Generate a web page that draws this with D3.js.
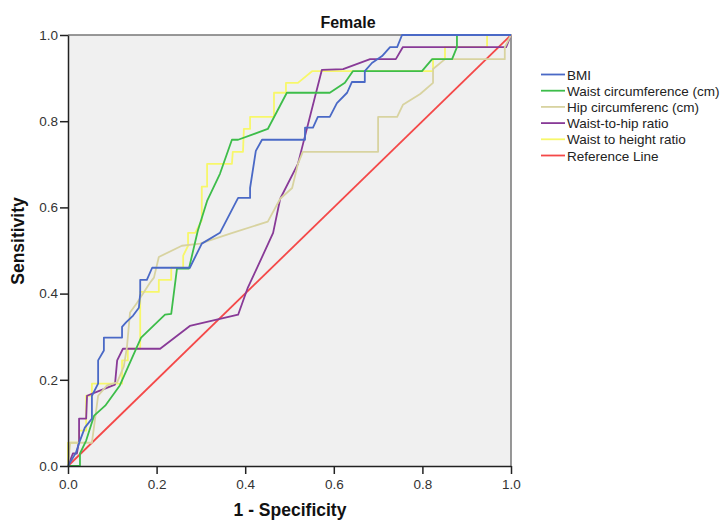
<!DOCTYPE html>
<html>
<head>
<meta charset="utf-8">
<script src="https://cdn.jsdelivr.net/npm/d3@7"></script>
<style>
  body { margin: 0; background: #fff; }
  svg text { font-family: Arial, "Liberation Sans", sans-serif; }
</style>
</head>
<body>
<div id="chart"></div>
<script>
// ROC points [1 - specificity, sensitivity]
var bmi = [[0,0],[0.018,0.031],[0.027,0.059],[0.038,0.089],[0.054,0.110],[0.054,0.163],[0.068,0.191],[0.068,0.245],[0.081,0.268],[0.081,0.298],[0.122,0.298],[0.122,0.323],[0.131,0.333],[0.147,0.349],[0.160,0.367],[0.163,0.400],[0.163,0.432],[0.178,0.432],[0.190,0.460],[0.275,0.460],[0.302,0.516],[0.343,0.541],[0.384,0.622],[0.411,0.622],[0.411,0.645],[0.424,0.731],[0.438,0.757],[0.535,0.757],[0.535,0.785],[0.553,0.785],[0.564,0.810],[0.591,0.810],[0.607,0.842],[0.630,0.866],[0.641,0.891],[0.670,0.891],[0.670,0.916],[0.686,0.935],[0.709,0.951],[0.727,0.972],[0.743,0.972],[0.754,1],[1,1]];
var waist = [[0,0],[0.027,0],[0.027,0.029],[0.041,0.059],[0.059,0.117],[0.084,0.140],[0.117,0.187],[0.165,0.298],[0.219,0.351],[0.233,0.353],[0.246,0.458],[0.273,0.458],[0.293,0.546],[0.314,0.615],[0.343,0.678],[0.370,0.757],[0.384,0.757],[0.451,0.782],[0.494,0.866],[0.591,0.866],[0.625,0.889],[0.643,0.916],[0.799,0.916],[0.822,0.944],[0.867,0.944],[0.878,0.972],[0.878,1],[1,1]];
var hip = [[0,0],[0.005,0.054],[0.054,0.054],[0.068,0.163],[0.088,0.187],[0.111,0.194],[0.126,0.231],[0.133,0.275],[0.140,0.356],[0.156,0.379],[0.185,0.425],[0.194,0.437],[0.205,0.485],[0.257,0.511],[0.298,0.516],[0.366,0.539],[0.451,0.567],[0.479,0.620],[0.506,0.645],[0.519,0.701],[0.530,0.729],[0.700,0.729],[0.700,0.810],[0.743,0.810],[0.756,0.838],[0.795,0.863],[0.824,0.889],[0.824,0.921],[0.851,0.944],[0.986,0.944],[0.986,0.972],[1,1]];
var whr = [[0,0],[0.011,0.029],[0.020,0.029],[0.025,0.059],[0.025,0.110],[0.041,0.110],[0.043,0.163],[0.072,0.175],[0.106,0.189],[0.111,0.245],[0.124,0.272],[0.208,0.272],[0.275,0.325],[0.384,0.351],[0.406,0.414],[0.427,0.460],[0.463,0.541],[0.479,0.620],[0.519,0.701],[0.573,0.919],[0.621,0.921],[0.682,0.944],[0.740,0.944],[0.756,0.972],[0.989,0.972],[1,1]];
var whtr = [[0,0],[0,0.054],[0.025,0.054],[0.025,0.082],[0.041,0.082],[0.041,0.163],[0.054,0.163],[0.054,0.191],[0.122,0.191],[0.122,0.245],[0.135,0.245],[0.135,0.272],[0.163,0.272],[0.163,0.404],[0.205,0.404],[0.205,0.432],[0.233,0.432],[0.233,0.460],[0.260,0.460],[0.260,0.488],[0.271,0.511],[0.271,0.541],[0.287,0.541],[0.302,0.570],[0.302,0.648],[0.314,0.648],[0.314,0.701],[0.370,0.701],[0.372,0.729],[0.395,0.729],[0.397,0.782],[0.411,0.782],[0.411,0.810],[0.465,0.810],[0.465,0.866],[0.492,0.866],[0.492,0.889],[0.519,0.889],[0.551,0.916],[0.824,0.916],[0.824,0.944],[0.851,0.944],[0.851,0.972],[0.946,0.972],[0.946,1],[1,1]];
var refLine = [[0,0],[1,1]];

var seriesNames = ["BMI", "Waist circumference (cm)", "Hip circumferenc (cm)", "Waist-to-hip ratio", "Waist to height ratio", "Reference Line"];
var seriesData = [bmi, waist, hip, whr, whtr, refLine];
var seriesColor = ["#4a69c6", "#3dbd4a", "#d8d3a0", "#883a97", "#f7f76a", "#f44848"];
var tickValues = [0, 0.2, 0.4, 0.6, 0.8, 1.0];

var width = 722, height = 520;
var svg = d3.select("#chart").append("svg")
    .attr("width", width)
    .attr("height", height);

var x = d3.scaleLinear().domain([0, 1]).range([68, 511]);
var y = d3.scaleLinear().domain([0, 1]).range([466, 35]);

// plot background
svg.append("rect")
    .attr("x", x(0))
    .attr("y", y(1))
    .attr("width", x(1) - x(0))
    .attr("height", y(0) - y(1))
    .attr("fill", "#f0f0f0");

// top / right frame
svg.append("path")
    .attr("d", "M" + x(0) + "," + y(1) + "H" + x(1) + "V" + y(0))
    .attr("fill", "none")
    .attr("stroke", "#777")
    .attr("stroke-width", 1.5);

var line = d3.line()
    .x(function (d) { return x(d[0]); })
    .y(function (d) { return y(d[1]); });

var g = svg.append("g");
for (let i = seriesData.length - 1; i >= 0; --i) {
    g.append("path")
        .datum(seriesData[i])
        .attr("d", line)
        .attr("fill", "none")
        .attr("stroke", seriesColor[i])
        .attr("stroke-width", 1.8)
        .attr("stroke-linejoin", "round");
}

var fmt = d3.format(".1f");
var xAxis = svg.append("g")
    .attr("transform", "translate(0," + y(0) + ")")
    .call(d3.axisBottom(x).tickValues(tickValues).tickFormat(fmt).tickSize(8).tickSizeOuter(0));
var yAxis = svg.append("g")
    .attr("transform", "translate(" + x(0) + ",0)")
    .call(d3.axisLeft(y).tickValues(tickValues).tickFormat(fmt).tickSize(8).tickSizeOuter(0));

[xAxis, yAxis].forEach(function (a) {
    a.select(".domain").attr("stroke", "#222").attr("stroke-width", 1.5);
    a.selectAll(".tick line").attr("stroke", "#222").attr("stroke-width", 1.5);
    a.selectAll(".tick text")
        .attr("fill", "#333")
        .attr("font-size", 13.5)
        .attr("font-family", "Arial, 'Liberation Sans', sans-serif");
});
xAxis.selectAll(".tick text").attr("dy", "0.9em");
yAxis.selectAll(".tick text").attr("x", -10);

svg.append("text")
    .text("Female")
    .attr("x", 348)
    .attr("y", 28)
    .attr("text-anchor", "middle")
    .attr("font-size", 16)
    .attr("font-weight", "bold")
    .attr("fill", "#111");

svg.append("text")
    .text("1 - Specificity")
    .attr("x", 290)
    .attr("y", 516)
    .attr("text-anchor", "middle")
    .attr("font-size", 17.5)
    .attr("font-weight", "bold")
    .attr("fill", "#111");

svg.append("text")
    .text("Sensitivity")
    .attr("transform", "translate(24,241) rotate(-90)")
    .attr("text-anchor", "middle")
    .attr("font-size", 17.5)
    .attr("font-weight", "bold")
    .attr("fill", "#111");

// legend
var legend = svg.append("g");
for (let i = 0; i < seriesNames.length; ++i) {
    var ly = 74.5 + i * 16.2;
    legend.append("line")
        .attr("x1", 541)
        .attr("x2", 565)
        .attr("y1", ly)
        .attr("y2", ly)
        .attr("stroke", seriesColor[i])
        .attr("stroke-width", 1.8);
    legend.append("text")
        .text(seriesNames[i])
        .attr("x", 567)
        .attr("y", ly + 5)
        .attr("font-size", 13.5)
        .attr("fill", "#222");
}
</script>
</body>
</html>
